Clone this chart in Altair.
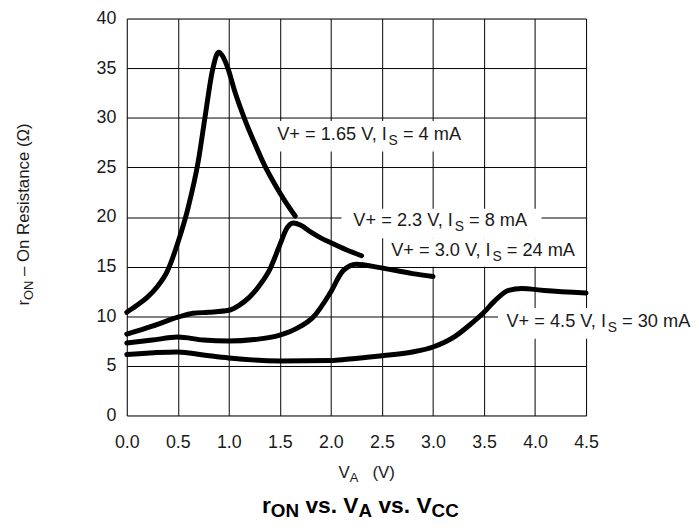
import altair as alt
import pandas as pd

# ---------------- data ----------------
v_165 = [0, 0.1, 0.2, 0.3, 0.4, 0.5, 0.6, 0.7, 0.77, 0.84, 0.9, 0.94, 0.99, 1.06, 1.15, 1.25, 1.35, 1.45, 1.55, 1.65]
r_165 = [10.4, 11.1, 11.9, 13.0, 14.6, 17.4, 20.9, 25.6, 30.3, 34.8, 36.6, 36.2, 35.0, 32.6, 30.0, 27.5, 25.2, 23.3, 21.6, 20.1]

v_23 = [0, 0.25, 0.5, 0.65, 0.8, 1.0, 1.1, 1.2, 1.3, 1.4, 1.5, 1.57, 1.63, 1.7, 1.8, 1.9, 2.0, 2.15, 2.3]
r_23 = [8.2, 9.0, 9.9, 10.3, 10.4, 10.6, 11.1, 11.9, 13.1, 14.7, 17.2, 18.9, 19.4, 19.2, 18.5, 17.9, 17.4, 16.7, 16.1]

v_30 = [0, 0.25, 0.5, 0.75, 1.0, 1.25, 1.5, 1.67, 1.83, 1.99, 2.12, 2.25, 2.48, 2.8, 3.0]
r_30 = [7.3, 7.6, 7.9, 7.6, 7.5, 7.65, 8.1, 8.8, 9.95, 12.3, 14.6, 15.25, 14.9, 14.3, 14.0]

v_45 = [0, 0.5, 0.75, 1.0, 1.5, 2.0, 2.15, 2.48, 2.8, 3.0, 3.22, 3.38, 3.49, 3.61, 3.74, 3.87, 4.09, 4.5]
r_45 = [6.15, 6.4, 6.1, 5.8, 5.5, 5.55, 5.66, 6.0, 6.4, 6.9, 8.0, 9.3, 10.3, 11.6, 12.6, 12.8, 12.6, 12.35]

series_names = ["1.65 V", "2.3 V", "3.0 V", "4.5 V"]
series_v = [v_165, v_23, v_30, v_45]
series_r = [r_165, r_23, r_30, r_45]

x_ticks = [0, 0.5, 1.0, 1.5, 2.0, 2.5, 3.0, 3.5, 4.0, 4.5]
y_ticks = [0, 5, 10, 15, 20, 25, 30, 35, 40]

# curve labels: (main text, subscript, tail, anchor V, anchor r baseline)
label_main = ["V+ = 1.65 V, I", "V+ = 2.3 V, I", "V+ = 3.0 V, I", "V+ = 4.5 V, I"]
label_sub = ["S", "S", "S", "S"]
label_tail = [" = 4 mA", " = 8 mA", " = 24 mA", " = 30 mA"]
label_v = [1.474, 2.22, 2.59, 3.72]
label_r = [27.79, 19.06, 16.08, 8.93]
# white boxes behind labels (data units)
box_v1 = [1.435, 2.104, 2.522, 3.637]
box_v2 = [3.317, 4.064, 4.46, 5.6]
box_r1 = [26.6, 17.87, 15.0, 7.74]
box_r2 = [29.68, 20.84, 17.87, 10.82]

# ---------------- layout helpers ----------------
W, H = 464, 401
XMAX, YMAX = 4.5, 40
PXV = W / XMAX
PXR = H / YMAX
FONT = "Liberation Sans"
FL, SFL, DROPL = 18.4, 14, 5    # in-plot labels
FT, SFT, DROPT = 17, 13, 4      # axis titles
FB, SFB = 23, 19                # bold bottom title
FTICK = 18

REG = {' ': 278, '+': 584, '=': 584, '.': 278, ',': 278, 'V': 667, 'I': 278, 'S': 667, 'm': 833,
       'A': 667, '(': 333, ')': 333, '\u2013': 556, 'O': 778, 'n': 556, 'R': 722, 'e': 556, 's': 500,
       'i': 222, 't': 278, 'a': 556, 'c': 500, '\u03a9': 768, 'r': 333, 'N': 722, 'C': 722, 'v': 500}
BOLD = {' ': 278, 'r': 389, 'O': 778, 'N': 722, 'v': 556, 's': 556, '.': 278, 'V': 667, 'A': 722, 'C': 722}


def tw(s, size, bold=False):
    tab = BOLD if bold else REG
    return sum(tab.get(ch, 556) for ch in s) * size / 1000.0


def run(pieces, bold=False):
    """pieces: list of (text, size, is_sub). Returns (text, offset, size, is_sub) with
    leading spaces removed from the text and folded into the offset."""
    out, cur = [], 0.0
    for t, s, sub in pieces:
        lead = len(t) - len(t.lstrip(" "))
        out.append((t.lstrip(" "), cur + tw(" " * lead, s, bold), s, sub))
        cur += tw(t, s, bold)
    return out, cur


# ---------------- tables ----------------
rows = []
for name, vs, rs in zip(series_names, series_v, series_r):
    for i, (v, r) in enumerate(zip(vs, rs)):
        rows.append({"series": name, "v": v, "r": r, "i": i})
lines_df = pd.DataFrame(rows)

boxes_df = pd.DataFrame({"v1": box_v1, "v2": box_v2, "r1": box_r1, "r2": box_r2})

lab_rows = []
for m, s, t, v0, r0 in zip(label_main, label_sub, label_tail, label_v, label_r):
    pcs, _ = run([(m, FL, False), (s, SFL, True), (t, FL, False)])
    for txt, off, size, sub in pcs:
        lab_rows.append({"t": txt, "v": v0 + off / PXV, "r": r0 - (DROPL / PXR if sub else 0), "fs": size})
labels_df = pd.DataFrame(lab_rows)

# x-axis title (pixel coords relative to plot origin)
x0, y0 = 214, 464
pcs, _ = run([("V", FT, False), ("A", SFT, True), ("   (V)", FT, False)])
xt_df = pd.DataFrame([{"t": t, "px": x0 + o, "py": y0 + (DROPT if sub else 0), "fs": s}
                      for t, o, s, sub in pcs])

# bottom bold title
pcs, total = run([("r", FB, False), ("ON", SFB, True), (" vs. V", FB, False), ("A", SFB, True),
                  (" vs. V", FB, False), ("CC", SFB, True)], bold=True)
cx, by = 236, 500
tt_df = pd.DataFrame([{"t": t, "px": cx - total / 2 + o, "py": by + (DROPT if sub else 0), "fs": s}
                      for t, o, s, sub in pcs])

# rotated y title (reads bottom to top)
yx, yy = -99, 290
pcs, _ = run([("r", FT, False), ("ON", SFT, True), (" \u2013 On Resistance (\u03a9)", FT, False)])
yt_df = pd.DataFrame([{"t": t, "px": yx + (DROPT if sub else 0), "py": yy - o, "fs": s}
                      for t, o, s, sub in pcs])

# ---------------- chart ----------------
xs = alt.Scale(domain=[0, XMAX], nice=False, zero=False)
ys = alt.Scale(domain=[0, YMAX], nice=False)

x_enc = alt.X("v:Q", scale=xs, axis=alt.Axis(values=x_ticks, format=".1f", title=None, grid=True,
                                              domain=False, ticks=False, labelPadding=18, labelFlush=False,
                                              labelFontSize=FTICK, labelColor="#1a1a1a", labelFont=FONT,
                                              gridColor="black", gridWidth=1, gridOpacity=1))
y_enc = alt.Y("r:Q", scale=ys, axis=alt.Axis(values=y_ticks, format="d", title=None, grid=True,
                                             domain=False, ticks=False, labelPadding=11, labelFlush=False,
                                             labelFontSize=FTICK, labelColor="#1a1a1a", labelFont=FONT,
                                             gridColor="black", gridWidth=1, gridOpacity=1))

base_lines = alt.Chart(lines_df).mark_line(color="black", strokeWidth=5, interpolate="monotone",
                                           strokeCap="round").encode(
    x=x_enc, y=y_enc, detail="series:N", order="i:Q")

boxes = alt.Chart(boxes_df).mark_rect(fill="white").encode(
    x=alt.X("v1:Q", scale=xs), x2="v2:Q", y=alt.Y("r1:Q", scale=ys), y2="r2:Q")

labels = alt.Chart(labels_df).mark_text(align="left", baseline="alphabetic", font=FONT,
                                        color="#1a1a1a").encode(
    x=alt.X("v:Q", scale=xs), y=alt.Y("r:Q", scale=ys), text="t:N",
    size=alt.Size("fs:Q", scale=None, legend=None))

xt = alt.Chart(xt_df).mark_text(align="left", baseline="alphabetic", font=FONT, color="#1a1a1a").encode(
    x=alt.X("px:Q", scale=None), y=alt.Y("py:Q", scale=None), text="t:N",
    size=alt.Size("fs:Q", scale=None, legend=None))

tt = alt.Chart(tt_df).mark_text(align="left", baseline="alphabetic", font=FONT, fontWeight="bold",
                                color="black").encode(
    x=alt.X("px:Q", scale=None), y=alt.Y("py:Q", scale=None), text="t:N",
    size=alt.Size("fs:Q", scale=None, legend=None))

yt = alt.Chart(yt_df).mark_text(align="left", baseline="alphabetic", font=FONT, angle=270,
                                color="#1a1a1a").encode(
    x=alt.X("px:Q", scale=None), y=alt.Y("py:Q", scale=None), text="t:N",
    size=alt.Size("fs:Q", scale=None, legend=None))

chart = alt.layer(boxes, base_lines, labels, xt, tt, yt).properties(
    width=W, height=H,
    autosize=alt.AutoSizeParams(type="none"),
    padding={"left": 120, "top": 8, "right": 106, "bottom": 110},
).configure_view(stroke="black", strokeWidth=2).configure(font=FONT)

chart.save("out.html", embed_options={"renderer": "svg", "actions": False})
